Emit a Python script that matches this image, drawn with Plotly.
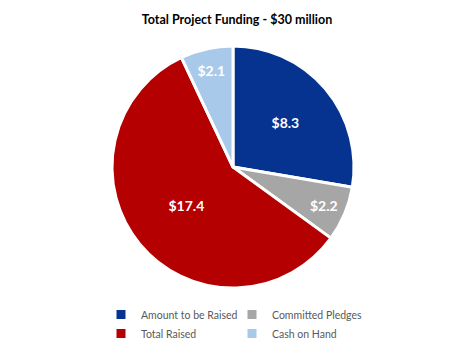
import plotly.graph_objects as go

categories = ["Amount to be Raised", "Committed Pledges", "Total Raised", "Cash on Hand"]
values = [8.3, 2.2, 17.4, 2.1]
labels_text = ["$8.3", "$2.2", "$17.4", "$2.1"]
colors = ["#06338F", "#A6A6A6", "#B40000", "#A8C9EA"]

W, H = 474, 342
ML, MR = 80, 74
PW = W - ML - MR

fig = go.Figure(go.Pie(
    labels=categories,
    values=values,
    text=labels_text,
    textinfo="text",
    textposition="inside",
    insidetextorientation="horizontal",
    textfont=dict(family="Lato", size=14, color="white", weight="bold"),
    marker=dict(colors=colors, line=dict(color="white", width=3)),
    sort=False,
    direction="clockwise",
    rotation=0,
    hoverinfo="label+value",
    domain=dict(x=[(112 - ML) / PW, (354 - ML) / PW], y=[1 - 289 / H, 1 - 45 / H]),
))

fig.update_layout(
    width=W, height=H,
    margin=dict(l=ML, r=MR, t=0, b=0, autoexpand=False),
    paper_bgcolor="white",
    plot_bgcolor="white",
    title=dict(text="<b>Total Project Funding - $30 million</b>", x=0.5, xanchor="center",
               xref="container", yref="container",
               y=1 - 20 / H, yanchor="middle",
               font=dict(family="Lato", size=12.5, color="black")),
    legend=dict(orientation="h", x=(101 - ML) / PW, xanchor="left", y=1 - 300 / H, yanchor="top",
                entrywidth=86, entrywidthmode="pixels",
                font=dict(family="Lato", size=10.5, color="#595959"),
                itemwidth=30, tracegroupgap=0, traceorder="normal"),
    showlegend=True,
)

fig.write_html("out.html")
